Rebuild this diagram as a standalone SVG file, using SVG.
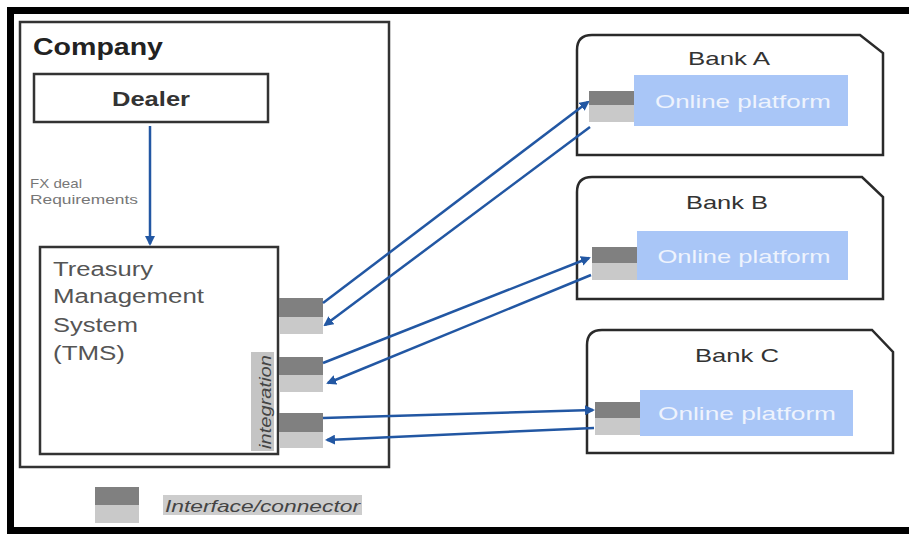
<svg xmlns="http://www.w3.org/2000/svg" width="909" height="534" viewBox="0 0 909 534">
<style>
.box{fill:#fff;stroke:#333;stroke-width:2.5}
.bank{fill:#fff;stroke:#2a2a2a;stroke-width:2.5}
.dk{fill:#808080}
.lt{fill:#c9c9c9}
.plat{fill:#a9c6f7}
.t{font-family:"Liberation Sans",Arial,sans-serif}
.bt{font-family:"Liberation Sans",Arial,sans-serif;font-size:19px;fill:#333;text-anchor:middle}
.pt{font-family:"Liberation Sans",Arial,sans-serif;font-size:19px;fill:#eef3fd;text-anchor:middle}
.tms{font-family:"Liberation Sans",Arial,sans-serif;font-size:20px;fill:#555}
.arr{stroke:#2257a3;stroke-width:2.5;fill:none;marker-end:url(#ah)}
</style>
<defs>
<marker id="ah" viewBox="0 0 10 10" refX="8" refY="5" markerWidth="4" markerHeight="4" orient="auto" markerUnits="strokeWidth">
<path d="M0,0 L10,5 L0,10 z" fill="#2257a3"/>
</marker>
</defs>
<rect width="909" height="534" fill="#fff"/>
<path d="M909 10.5 H10.5 V530.5 H909" fill="none" stroke="#000" stroke-width="7"/>

<g id="company">
<rect class="box" x="20" y="22" width="369" height="445"/>
<text class="t" x="33" y="55" font-size="24" font-weight="bold" fill="#222" textLength="130" lengthAdjust="spacingAndGlyphs">Company</text>
</g>

<g id="dealer">
<rect class="box" x="34" y="74" width="234" height="48"/>
<text class="t" x="112" y="106" font-size="20" font-weight="bold" fill="#333" textLength="78" lengthAdjust="spacingAndGlyphs">Dealer</text>
</g>

<g id="tms">
<rect class="box" x="40" y="247" width="238" height="207"/>
<text class="tms" x="53" y="276" textLength="100" lengthAdjust="spacingAndGlyphs">Treasury</text>
<text class="tms" x="53" y="303" textLength="151" lengthAdjust="spacingAndGlyphs">Management</text>
<text class="tms" x="53" y="332" textLength="85" lengthAdjust="spacingAndGlyphs">System</text>
<text class="tms" x="53" y="360" textLength="72" lengthAdjust="spacingAndGlyphs">(TMS)</text>
<rect x="251" y="352" width="23" height="99" fill="#c4c4c4"/>
<text class="t" transform="translate(271,449) rotate(-90)" font-size="16" font-style="italic" fill="#444" textLength="94" lengthAdjust="spacingAndGlyphs">integration</text>
<rect class="dk" x="279" y="298" width="44" height="19"/>
<rect class="lt" x="279" y="317" width="44" height="17"/>
<rect class="dk" x="279" y="357" width="44" height="18"/>
<rect class="lt" x="279" y="375" width="44" height="17"/>
<rect class="dk" x="279" y="413" width="44" height="19"/>
<rect class="lt" x="279" y="432" width="44" height="16"/>
</g>

<g id="bankA">
<path class="bank" d="M577 155 V50 Q577 35 592 35 H860 L883 53 V155 Z"/>
<text class="bt" x="729" y="65" textLength="82" lengthAdjust="spacingAndGlyphs">Bank A</text>
<rect class="plat" x="634" y="75" width="214" height="51"/>
<text class="pt" x="743" y="108" textLength="176" lengthAdjust="spacingAndGlyphs">Online platform</text>
<rect class="dk" x="589" y="91" width="45" height="14"/>
<rect class="lt" x="589" y="105" width="45" height="17"/>
</g>

<g id="bankB">
<path class="bank" d="M577 299 V192 Q577 177 592 177 H862 L883 197 V299 Z"/>
<text class="bt" x="727" y="209" textLength="82" lengthAdjust="spacingAndGlyphs">Bank B</text>
<rect class="plat" x="637" y="231" width="211" height="49"/>
<text class="pt" x="744" y="263" textLength="173" lengthAdjust="spacingAndGlyphs">Online platform</text>
<rect class="dk" x="592" y="247" width="45" height="16"/>
<rect class="lt" x="592" y="263" width="45" height="17"/>
</g>

<g id="bankC">
<path class="bank" d="M587 453 V345 Q587 330 602 330 H872 L893 352 V453 Z"/>
<text class="bt" x="737" y="362" textLength="84" lengthAdjust="spacingAndGlyphs">Bank C</text>
<rect class="plat" x="640" y="390" width="213" height="46"/>
<text class="pt" x="747" y="420" textLength="178" lengthAdjust="spacingAndGlyphs">Online platform</text>
<rect class="dk" x="595" y="402" width="45" height="16"/>
<rect class="lt" x="595" y="418" width="45" height="17"/>
</g>

<g id="connectors">
<line class="arr" x1="150" y1="126" x2="150" y2="244"/>
<line class="arr" x1="323" y1="303" x2="588" y2="102"/>
<line class="arr" x1="590" y1="127" x2="325" y2="325"/>
<line class="arr" x1="323" y1="363" x2="589" y2="258"/>
<line class="arr" x1="591" y1="275" x2="328" y2="383"/>
<line class="arr" x1="323" y1="418" x2="593" y2="410"/>
<line class="arr" x1="594" y1="428" x2="327" y2="440"/>
<text class="t" x="30" y="188" font-size="13" fill="#777" textLength="52" lengthAdjust="spacingAndGlyphs">FX deal</text>
<text class="t" x="30" y="204" font-size="13" fill="#777" textLength="108" lengthAdjust="spacingAndGlyphs">Requirements</text>
</g>

<g id="legend">
<rect class="dk" x="95" y="487" width="44" height="18"/>
<rect class="lt" x="95" y="505" width="44" height="18"/>
<rect x="163" y="495" width="199" height="20" fill="#cdcdcd"/>
<text class="t" x="165" y="512" font-size="17" font-style="italic" fill="#444" textLength="195" lengthAdjust="spacingAndGlyphs">Interface/connector</text>
</g>
</svg>
